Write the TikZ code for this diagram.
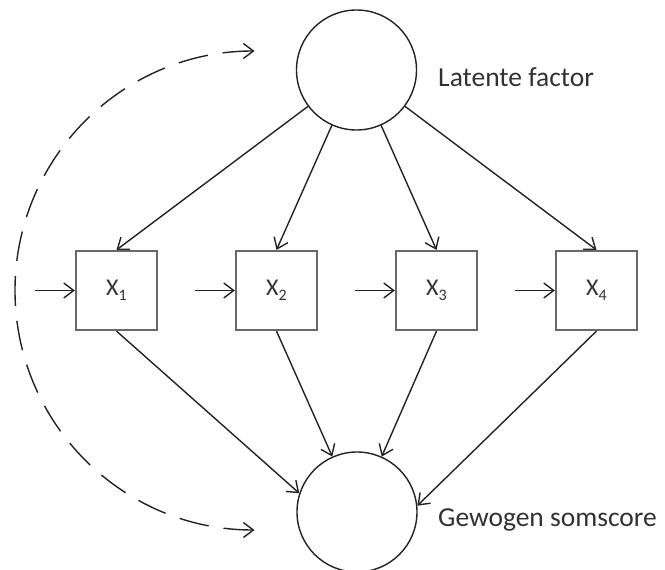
\documentclass[tikz,border=0pt]{standalone}
\usepackage{fontspec}
\setmainfont{Carlito}
\usetikzlibrary{arrows.meta}
\definecolor{boxgray}{RGB}{105,105,105}
\definecolor{linecol}{RGB}{35,35,35}
\definecolor{txtcol}{RGB}{50,50,50}
\begin{document}
\begin{tikzpicture}[x=1pt,y=-1pt,
  arr/.style={draw=linecol,line width=1.4pt,-{Straight Barb[length=10pt,width=15pt,line width=1.4pt]}},
  latent/.style={circle,draw=linecol,line width=1.4pt,minimum size=120pt,inner sep=0pt},
  obsbox/.style={rectangle,draw=boxgray,line width=2.2pt,minimum width=81pt,minimum height=79pt,inner sep=0pt,
    font=\fontsize{24}{28}\selectfont,text=txtcol},
  lbl/.style={anchor=base west,font=\fontsize{27.5}{33}\selectfont,text=txtcol,inner sep=0pt},
  dasharr/.style={draw=linecol,line width=1.4pt,dash pattern=on 30pt off 15pt,
    {Straight Barb[length=10pt,width=15pt,line width=1.4pt]}-{Straight Barb[length=10pt,width=15pt,line width=1.4pt]}}]
\useasboundingbox (0,0) rectangle (665,570);
\node[latent] (lf) at (356.5,70) {};
\node[latent] (ws) at (357,512) {};
\node[lbl] (lflbl) at (438,86) {Latente factor};
\node[lbl] (wslbl) at (438,526) {Gewogen somscore};
\foreach \i in {1,2,3,4}{
  \node[obsbox] (b\i) at ({116.5+160*(\i-1)},290.5) {X\raisebox{-0.22em}{\fontsize{16}{18}\selectfont\i}};
  \coordinate (in\i) at ({35+160*(\i-1)},290.5);
  \draw[arr] (in\i) -- (b\i.west);
  \draw[arr] (lf) -- (b\i.north);
}
\draw[arr] (b1.south) -- (ws.162);
\draw[arr] (b2.south) -- (ws.114);
\draw[arr] (b3.south) -- (ws.66);
\draw[arr] (b4.south) -- (ws.6);
\coordinate (dtop) at (254.5,51);
\coordinate (dbot) at (254.5,530);
\draw[dasharr] (dtop) arc[start angle=270,end angle=90,radius=239.5];
\end{tikzpicture}
\end{document}
